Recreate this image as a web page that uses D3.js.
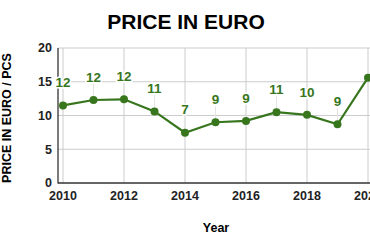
<!DOCTYPE html>
<html><head><meta charset="utf-8">
<script src="https://cdn.jsdelivr.net/npm/d3@7"></script>
<style>body{margin:0;background:#fff}svg{display:block}text{font-family:"Liberation Sans",Arial,sans-serif}</style>
</head><body>
<svg id="c" width="370" height="247"></svg>
<script>
const years = [2010, 2011, 2012, 2013, 2014, 2015, 2016, 2017, 2018, 2019, 2020];
const prices = [11.5, 12.3, 12.4, 10.6, 7.45, 9.0, 9.2, 10.5, 10.1, 8.7, 15.6];
const pointLabels = ["12", "12", "12", "11", "7", "9", "9", "11", "10", "9", null];
const yTicks = [0, 5, 10, 15, 20];
const xTicks = [2010, 2012, 2014, 2016, 2018, 2020];
const title = "PRICE IN EURO";
const yTitle = "PRICE IN EURO / PCS";
const xTitle = "Year";

const svg = d3.select("#c");
const green = "#38761d";
const x = d3.scaleLinear().domain([2010, 2020]).range([63, 368]);
const y = d3.scaleLinear().domain([0, 20]).range([183, 48]);
const axisX = 58;

// gridlines
svg.append("g").selectAll("line").data(yTicks.filter(d => d > 0)).join("line")
  .attr("x1", axisX).attr("x2", 370).attr("y1", d => y(d)).attr("y2", d => y(d))
  .attr("stroke", "#cccccc").attr("stroke-width", 1);
svg.append("g").selectAll("line").data(xTicks).join("line")
  .attr("x1", d => x(d)).attr("x2", d => x(d)).attr("y1", y(20)).attr("y2", y(0))
  .attr("stroke", "#cccccc").attr("stroke-width", 1);

// leader lines
const pts = years.map((yr, i) => ({yr, v: prices[i], lab: pointLabels[i]}));
svg.append("g").selectAll("line").data(pts.filter(d => d.lab)).join("line")
  .attr("x1", d => x(d.yr)).attr("x2", d => x(d.yr))
  .attr("y1", d => y(d.v) - 16).attr("y2", d => y(d.v))
  .attr("stroke", "#e4e4e4").attr("stroke-width", 1);

// axes lines
svg.append("line").attr("x1", axisX).attr("x2", axisX).attr("y1", y(20)).attr("y2", y(0) + 0.5)
  .attr("stroke", "#333").attr("stroke-width", 1.3);
svg.append("line").attr("x1", axisX).attr("x2", 370).attr("y1", y(0)).attr("y2", y(0))
  .attr("stroke", "#333").attr("stroke-width", 1.3);

// tick labels
svg.append("g").selectAll("text").data(yTicks).join("text")
  .attr("x", 52).attr("y", d => y(d)).attr("dy", "0.35em").attr("text-anchor", "end")
  .attr("font-size", 12.5).attr("font-weight", "bold").attr("fill", "#222").text(d => d);
svg.append("g").selectAll("text").data(xTicks).join("text")
  .attr("x", d => x(d)).attr("y", 196).attr("dy", "0.35em").attr("text-anchor", "middle")
  .attr("font-size", 12.5).attr("font-weight", "bold").attr("fill", "#222").text(d => d);

// line
svg.append("path").datum(pts)
  .attr("d", d3.line().x(d => x(d.yr)).y(d => y(d.v)))
  .attr("fill", "none").attr("stroke", green).attr("stroke-width", 2.2);
svg.append("g").selectAll("circle").data(pts).join("circle")
  .attr("cx", d => x(d.yr)).attr("cy", d => y(d.v)).attr("r", 4).attr("fill", green);

// point labels
svg.append("g").selectAll("text").data(pts.filter(d => d.lab)).join("text")
  .attr("x", d => x(d.yr)).attr("y", d => y(d.v) - 23).attr("dy", "0.35em").attr("text-anchor", "middle")
  .attr("font-size", 13.5).attr("font-weight", "bold").attr("fill", green)
  .attr("stroke", "#fff").attr("stroke-width", 3).attr("paint-order", "stroke")
  .text(d => d.lab);

// titles
svg.append("text").attr("x", 186).attr("y", 29).attr("text-anchor", "middle")
  .attr("font-size", 21).attr("font-weight", "bold").attr("fill", "#000").text(title);
svg.append("text").attr("transform", "translate(7,118) rotate(-90)").attr("dy", "0.35em")
  .attr("text-anchor", "middle").attr("font-size", 12.5).attr("font-weight", "bold").attr("fill", "#000").text(yTitle);
svg.append("text").attr("x", 216).attr("y", 228).attr("dy", "0.35em").attr("text-anchor", "middle")
  .attr("font-size", 12.5).attr("font-weight", "bold").attr("fill", "#000").text(xTitle);
</script>
</body></html>
